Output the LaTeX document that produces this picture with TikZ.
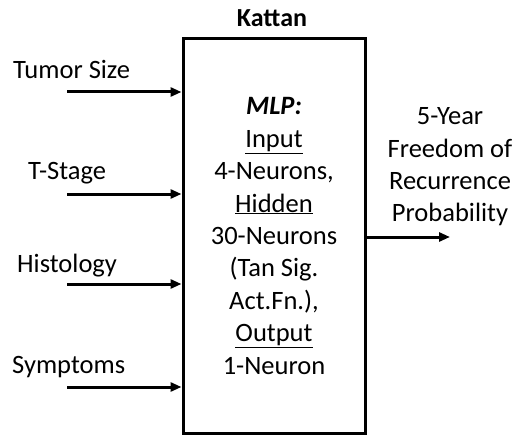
\documentclass[tikz,border=0pt]{standalone}
\usepackage{fontspec}
\setmainfont{Carlito}
\usetikzlibrary{arrows.meta}
\begin{document}
\begin{tikzpicture}[x=1pt,y=-1pt,
  feed/.style={line width=3pt,-{Triangle[length=11pt,width=9pt]}},
  lbl/.style={font=\fontsize{26.5}{32.4}\selectfont,inner sep=0pt}]
\useasboundingbox (0,0) rectangle (517,436);
% model box
\node[draw,line width=3pt,minimum width=182pt,minimum height=394pt,lbl,align=center] (mlp) at (274,236)
  {\textbf{\textit{MLP:}}\\ \underline{Input}\\ 4-Neurons,\\ \underline{Hidden}\\ 30-Neurons\\ (Tan Sig.\\ Act.Fn.),\\ \underline{Output}\\ 1-Neuron};
\node[lbl,font=\fontsize{26}{30}\selectfont\bfseries,anchor=base] (title) at (272,27) {Kattan};
% inputs
\node[lbl,anchor=base west] (size) at (13,79) {Tumor Size};
\node[lbl,anchor=base west] (stage) at (28,179) {T-Stage};
\node[lbl,anchor=base west] (histo) at (17,272) {Histology};
\node[lbl,anchor=base west] (sympt) at (12,373) {Symptoms};
\coordinate (sizein) at (67,92);
\coordinate (stagein) at (67,194);
\coordinate (histoin) at (67,284);
\coordinate (symptin) at (67,387);
\draw[feed] (sizein) -- (sizein -| mlp.west);
\draw[feed] (stagein) -- (stagein -| mlp.west);
\draw[feed] (histoin) -- (histoin -| mlp.west);
\draw[feed] (symptin) -- (symptin -| mlp.west);
% output
\node[lbl,align=center] (prob) at (450,167) {5-Year\\ Freedom of\\ Recurrence\\ Probability};
\coordinate (probout) at (450,237);
\draw[feed] (mlp.east |- probout) -- (probout);
\end{tikzpicture}
\end{document}
